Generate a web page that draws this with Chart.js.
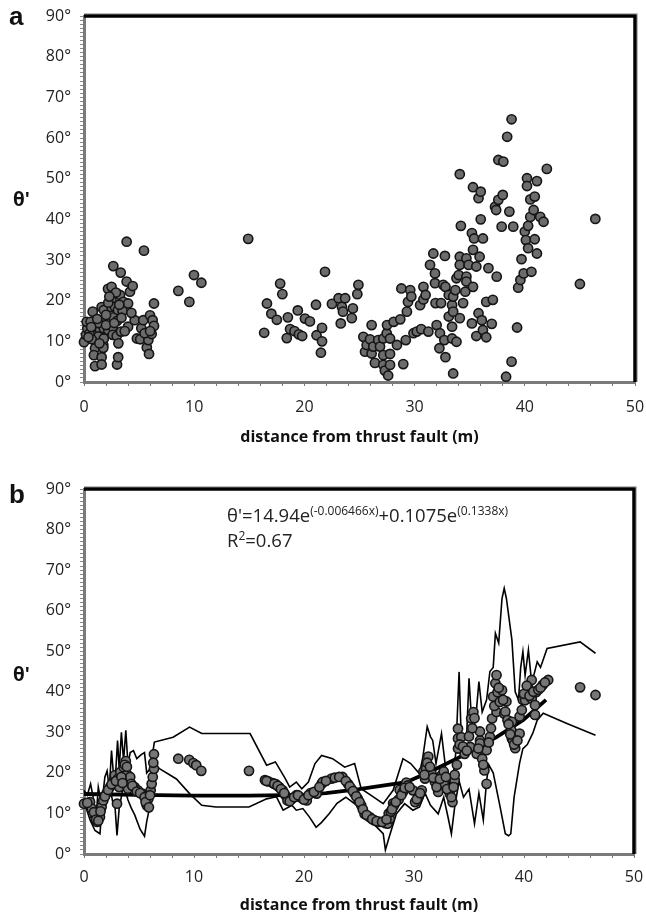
<!DOCTYPE html>
<html><head><meta charset="utf-8">
<script src="https://cdn.jsdelivr.net/npm/chart.js@4"></script>
<style>
html,body{margin:0;padding:0;background:#fff;width:646px;height:917px;overflow:hidden;font-family:"Open Sans",sans-serif;}
.wrap{position:absolute;left:0;width:646px;}
#wa{top:0;height:460px;}
#wb{top:470px;height:447px;}
.lbl{position:absolute;color:#111;white-space:nowrap;line-height:1;}
.pl{font-family:"Liberation Sans",Arial,sans-serif;font-weight:bold;font-size:26px;}
.th{font-family:"Open Sans",sans-serif;font-weight:bold;font-size:19px;}
.eq{font-family:"Open Sans",sans-serif;font-size:18.5px;color:#222;}
.eq sup{font-size:12px;vertical-align:7px;}
</style></head><body>
<div id="wa" class="wrap"><canvas id="ca"></canvas></div>
<div id="wb" class="wrap"><canvas id="cb"></canvas></div>
<div class="lbl pl" style="left:9px;top:3px;">a</div>
<div class="lbl pl" style="left:9px;top:481px;">b</div>
<div class="lbl th" style="left:13px;top:190px;">θ'</div>
<div class="lbl th" style="left:13px;top:665px;">θ'</div>
<div class="lbl eq" style="left:227px;top:505px;">θ'=14.94e<sup>(-0.006466x)</sup>+0.1075e<sup>(0.1338x)</sup></div>
<div class="lbl eq" style="left:227px;top:530px;">R<sup>2</sup>=0.67</div>
<script>
// ---------- axis ----------
const xMin = 0, xMax = 50, xMajor = 10, xMinor = 2;
const yMin = 0, yMax = 90, yMajor = 10, yMinor = 1;
const xTitle = "distance from thrust fault (m)";

// ---------- panel a : raw measurements (distance m, theta' deg) ----------
const aDist = [
 0,0.18,0.3,0.24,0.6,0.79,0.85,1.0,1.15,1.15,1.0,0.9,1.0,1.45,1.45,1.3,1.6,1.6,1.6,1.75,1.75,1.8,1.8,1.8,
 2.18,2.2,2.36,2.5,2.5,2.5,2.6,2.6,2.66,2.66,2.8,2.97,3.0,3.1,3.08,3.12,3.27,3.33,3.36,3.5,3.57,3.87,3.87,
 4.0,4.0,4.17,4.42,4.6,4.8,5.1,5.2,5.38,5.44,5.7,5.84,5.9,5.99,6.23,6.35,6.35,6.14,
 0.5,1.3,2.0,2.2,3.0,3.2,0.7,2.9,
 0.4,0.65,1.2,1.4,2.0,2.3,2.75,3.4,3.7,4.3,5.5,6.0,
 8.56,9.56,9.98,10.65,14.9,
 16.35,16.6,17.0,17.5,17.8,18.0,18.4,18.5,18.7,19.1,19.4,19.5,19.8,20.05,20.5,21.05,21.1,21.5,21.6,21.6,21.87,
 22.5,23.1,23.3,23.4,23.5,23.7,24.3,24.4,24.8,24.9,
 25.35,25.5,25.65,25.95,26.1,26.1,26.25,26.4,26.7,26.86,27.16,27.16,27.16,27.3,27.47,27.5,27.6,27.77,27.77,27.77,
 28.1,28.4,28.7,28.8,28.97,29.2,29.3,29.4,29.6,29.7,29.9,
 30.2,30.5,30.6,30.8,30.8,31.0,31.25,31.4,31.7,31.85,31.85,31.9,32.0,32.25,32.3,32.4,32.6,32.7,32.75,32.8,32.8,
 33.1,33.1,33.4,33.4,33.4,33.5,33.5,33.5,33.7,33.8,33.8,34.0,34.1,34.1,34.1,34.1,34.2,34.4,34.6,34.7,34.7,34.7,34.9,
 35.2,35.2,35.3,35.3,35.3,35.4,35.6,35.6,35.8,35.8,35.9,36.0,36.0,36.1,36.2,36.2,36.5,36.5,36.7,37.0,37.1,37.3,37.4,
 37.45,37.6,37.6,37.9,38.0,38.05,38.3,38.4,38.6,38.8,38.8,38.95,39.3,39.4,39.6,39.7,39.9,
 40.0,40.1,40.2,40.2,40.3,40.3,40.5,40.5,40.6,40.8,40.9,40.9,41.1,41.1,41.4,41.7,42.0,45.0,46.4
];
const aTheta = [
 9.8,11.6,13.2,14.8,14.8,17.3,12.8,10.3,12.8,10.7,8.3,6.6,3.9,15.2,12.8,11.2,18.4,6.1,4.3,9.1,8.4,17.7,13.2,10.7,
 22.9,12.8,15.2,20.0,23.4,18.4,13.6,11.6,28.5,15.9,18.5,11.3,4.3,6.1,17.7,9.5,21.4,26.9,12.4,17.5,19.7,34.5,24.7,
 19.3,13.6,22.2,23.6,15.2,10.7,10.5,13.2,15.2,32.3,8.5,10.3,6.9,16.4,15.2,13.8,19.3,11.8,
 12.0,14.5,14.0,19.5,15.0,19.0,10.5,22.0,
 11.0,13.5,15.5,9.5,16.5,21.0,14.5,15.8,12.5,17.0,12.0,12.5,
 22.4,19.7,26.3,24.4,35.2,
 12.1,19.3,16.8,15.3,24.2,21.6,10.8,15.9,13.0,12.5,17.6,11.7,11.3,15.6,14.9,19.0,11.5,7.2,13.3,10.0,27.1,
 19.2,20.6,14.4,18.5,17.3,20.6,15.7,18.1,21.6,23.9,
 11.1,7.45,9.1,10.5,14.0,7.0,8.7,4.7,10.3,8.7,10.7,6.6,4.2,2.8,12.0,14.0,1.6,10.7,6.9,4.2,
 14.8,9.1,15.4,23.0,4.4,10.3,17.3,19.7,22.6,21.0,12.0,
 12.4,18.9,13.0,20.3,23.4,21.4,12.4,28.8,31.6,26.7,24.3,19.4,14.0,8.3,12.0,19.4,23.9,10.3,31.0,23.4,6.1,
 16.1,21.4,18.9,10.7,13.6,17.3,21.0,2.1,22.6,9.9,25.5,26.3,51.1,30.8,28.8,15.7,38.4,19.4,22.2,25.9,24.7,30.4,28.8,
 36.6,14.4,47.9,32.5,23.4,35.3,28.4,11.3,45.2,16.9,30.8,46.8,40.0,15.2,35.3,12.8,19.7,11.0,28.0,14.3,20.2,43.1,42.3,
 25.9,54.6,44.8,38.2,46.0,54.2,1.3,60.3,41.9,64.6,5.0,38.2,13.4,23.2,25.1,30.2,26.7,
 37.0,34.9,50.1,48.2,38.4,32.9,44.9,40.6,27.1,42.3,45.6,35.1,49.4,31.6,40.6,39.4,52.4,24.1,40.1
];

// ---------- panel b : smoothed values ----------
const bDist = [
 0,0.55,0.7,1.0,1.2,1.45,1.6,1.75,2.06,2.36,2.66,2.8,3.0,3.1,3.2,3.3,3.6,3.8,3.94,4.0,4.2,4.3,4.6,4.9,5.3,5.7,5.7,5.85,
 6.06,6.15,6.25,6.36,6.36,8.57,9.57,9.94,10.2,10.66,15.0,16.45,16.75,17.15,17.45,17.75,18.06,18.3,18.5,18.9,19.3,19.6,
 19.9,20.25,20.6,21.15,21.6,21.7,22.5,23.5,24.0,24.3,24.6,24.9,25.2,25.5,25.97,26.4,26.9,27.3,27.4,27.6,27.7,27.8,27.9,
 28.1,28.2,28.6,28.7,29.0,29.3,29.45,29.9,30.1,30.4,30.7,30.85,31.0,31.1,31.3,31.6,31.9,32.2,32.5,32.7,32.7,33.25,33.5,
 33.7,33.7,34.0,34.0,34.0,34.3,34.6,35.1,35.2,35.4,35.7,36.0,36.0,36.0,36.2,36.4,36.6,36.6,36.9,37.1,37.2,37.4,37.5,
 37.5,37.6,38.0,38.2,38.3,38.4,38.5,38.85,38.9,38.9,39.0,39.2,39.6,39.6,39.9,40.1,40.4,40.7,40.7,41.0,41.0,41.1,41.7,
 42.2,45.1,46.5,
 0.3,0.9,1.1,1.3,1.5,1.9,2.2,2.5,2.9,3.4,3.5,3.7,3.9,4.4,4.8,5.1,5.5,5.6,5.9,6.0,6.3,
 16.6,17.3,17.6,17.9,18.2,18.7,19.1,19.45,20.0,20.4,20.9,21.4,
 22.0,22.8,23.2,23.8,24.15,24.45,24.75,25.05,25.35,25.7,26.2,26.6,27.1,27.5,28.0,28.35,28.85,29.15,29.6,
 30.25,30.55,30.95,31.2,31.45,31.75,32.05,32.35,32.9,33.0,33.4,33.6,33.9,34.15,34.45,
 34.8,35.0,35.3,35.5,35.85,36.3,36.8,37.0,37.3,37.7,37.8,38.1,38.6,38.75,39.1,39.4,39.8,40.0,40.25,40.5,40.85,41.3,41.5,41.9
];
const bTheta = [
 12.4,12.8,11.2,9.5,7.9,9.1,11.6,13.2,15.0,16.5,17.8,19.4,12.4,18.6,16.5,20.2,21.4,22.9,19.6,16.1,19.0,17.3,16.5,15.7,14.9,14.5,12.0,13.6,
 15.7,17.3,19.0,21.0,24.6,23.5,23.2,22.4,21.9,20.5,20.5,18.2,17.9,17.5,17.2,16.5,15.7,14.5,13.2,13.6,14.5,14.1,
 13.6,13.2,15.0,14.9,17.3,17.75,18.6,19.0,17.3,16.1,14.9,13.6,12.0,9.9,9.1,8.3,7.9,7.9,7.6,7.5,10.0,8.7,10.4,
 12.5,12.0,13.4,15.8,15.3,17.6,16.9,15.7,12.8,14.1,15.7,20.3,18.6,21.0,24.0,19.8,17.75,15.3,19.4,20.3,17.4,14.9,12.8,
 18.2,19.5,26.0,30.9,28.5,28.8,24.7,26.4,33.4,35.0,24.7,28.0,30.2,27.3,23.5,20.6,17.3,25.6,28.9,33.4,38.8,42.1,44.1,
 35.0,39.9,40.4,34.6,35.1,37.6,33.0,30.5,32.6,28.5,28.0,26.1,29.7,33.9,38.0,37.9,40.9,42.9,38.3,36.7,34.3,39.9,41.7,
 42.9,41.1,39.2,
 12.6,10.3,8.5,8.2,10.5,14.2,15.8,17.2,18.0,19.0,17.5,22.0,21.5,16.8,15.4,15.0,14.0,12.8,11.5,14.5,22.5,
 18.0,17.3,16.8,16.0,15.0,13.0,14.0,14.5,13.4,14.5,15.3,16.5,
 18.0,18.8,19.0,18.0,16.7,15.5,14.2,12.8,11.0,9.6,8.6,8.1,7.9,8.5,11.0,12.8,14.5,16.3,16.5,
 13.5,15.0,19.5,22.5,21.5,18.8,16.5,18.5,19.0,16.0,14.0,16.5,22.0,27.0,26.5,
 25.5,29.0,31.0,33.5,26.0,22.0,27.5,31.0,36.5,41.0,37.5,38.0,32.0,29.5,27.0,28.0,35.5,39.5,41.5,39.0,40.0,40.5,41.0,42.3
];

// upper and lower envelope lines of panel b
const upDist = [0,0.3,0.6,0.9,1.1,1.3,1.6,1.9,2.1,2.3,2.5,2.7,2.9,3.05,3.2,3.4,3.6,3.8,4.0,4.2,4.5,4.8,5.2,5.5,5.7,6.0,6.4,
 8.1,9.6,10.7,15.1,16.6,17.4,18.3,18.7,19.3,19.8,20.4,21.0,21.6,22.6,23.7,24.6,25.2,26.3,27.2,28.1,29.0,29.7,30.5,30.8,
 31.2,31.5,31.7,32.0,32.5,32.9,33.4,33.8,34.1,34.3,34.5,34.8,35.0,35.3,35.6,35.9,36.2,36.6,36.9,37.2,37.4,37.7,38.0,38.2,
 38.4,38.9,39.2,39.5,39.7,39.9,40.1,40.4,40.7,41.2,41.5,42.1,45.1,46.5];
const upTheta = [15.7,14.5,17.3,13,9,16.5,12,19,20.5,16,25.5,19,21,28,21,30,23,30.5,22,25,25.5,23.5,24.5,25,20,21,27.6,
 28.8,31.3,29.7,29.7,21.9,22.7,18.6,16.5,17.75,16.1,17.75,22.3,24.3,23.5,21.4,22.3,16.1,14.1,12.4,15.7,23.5,22.3,19.8,23.8,
 31.4,28.9,28.0,22.3,29.7,20.6,15.8,25,44.9,28,28.1,30,43.3,30,33,42.5,35,38,45,46,54.4,52,63,65.5,
 63,52.8,40,38,46,49.9,44,50.3,42,47.4,46,50.7,52.3,49.5];
const loDist = [0,0.55,1.0,1.45,1.6,1.75,1.9,2.36,2.6,2.8,3.0,3.2,3.6,4.0,4.3,4.6,5.1,5.5,5.7,6.1,6.36,6.9,8.4,9.6,10.7,
 12.0,15.0,16.6,17.5,18.1,18.9,19.3,19.9,20.5,21.1,21.6,22.3,23.0,23.8,24.8,25.4,26.3,27.2,27.4,27.8,28.4,29.15,29.9,30.5,
 31.0,31.5,32.2,32.7,33.1,33.4,33.7,34.1,34.5,35.0,35.5,35.9,36.3,36.6,36.8,37.2,37.8,38.3,38.6,38.8,39.1,39.6,39.9,40.3,
 40.8,41.2,41.75,43.9,46.5];
const loTheta = [13,8.4,5.8,5.0,10,8.9,11,16.5,13,12.4,4.6,11.3,17.0,13.3,11.3,9.7,6.1,4.4,8.0,13.2,22.1,21.0,18.5,14.9,12.0,
 11.6,11.6,13.6,14.1,10.8,12.0,10.8,11.2,9.1,6.6,7.8,10,12.5,14,12.0,9.5,7.5,5.0,1.0,4.7,9.9,12.4,10.8,11.6,
 15,12,9.9,14,9,5.0,11.6,18,14,16,7.5,15,8.4,18,22,20,12,5.0,4.5,5.0,14,22.4,26,27,
 29.8,33,34.7,32.2,29.3];
// fitted curve as drawn in panel b
const fitDist = [0,5,10,15,20,22,25,27,29.3,31.7,34.75,37.5,39.9,42];
const fitTheta = [14.8,14.6,14.4,14.4,14.6,15.0,16.0,16.8,17.7,20.6,24.7,28.8,33.0,38.0];

const pts = (xs, ys) => xs.map((x, i) => ({x, y: ys[i]}));

const framePlugin = {
  id: 'frame',
  afterDraw(chart) {
    const {ctx, chartArea: {left, top, right, bottom}} = chart;
    ctx.save();
    ctx.strokeStyle = '#bbb'; ctx.lineWidth = 1;
    ctx.beginPath(); ctx.moveTo(left, top - 2.5); ctx.lineTo(right + 2.5, top - 2.5); ctx.lineTo(right + 2.5, bottom); ctx.stroke();
    ctx.strokeStyle = '#000'; ctx.lineWidth = 3.5;
    ctx.beginPath(); ctx.moveTo(left, top); ctx.lineTo(right, top); ctx.lineTo(right, bottom); ctx.stroke();
    ctx.restore();
  }
};

function makeOpts(padTop, padRight, xH, tickPad, titlePadBottom) {
  return {
    responsive: true, maintainAspectRatio: false, animation: false,
    layout: {autoPadding: false, padding: {top: padTop, right: padRight, left: 0, bottom: 0}},
    plugins: {legend: {display: false}, tooltip: {enabled: false}},
    scales: {
      x: {
        type: 'linear', min: xMin, max: xMax,
        afterFit(s) { s.height = xH; s.paddingLeft = 0; s.paddingRight = 0; s.paddingTop = 0; s.paddingBottom = 0; },
        afterBuildTicks(s) { s.ticks = []; for (let v = xMin; v <= xMax; v += xMinor) s.ticks.push({value: v}); },
        ticks: {autoSkip: false, maxRotation: 0, padding: tickPad, color: '#222',
          font: {family: 'Open Sans', size: 16},
          callback: v => (v % xMajor === 0 ? String(v) : '')},
        grid: {drawOnChartArea: false, drawTicks: true, tickLength: 4, color: '#777', lineWidth: 1},
        border: {display: true, color: '#7a7a7a', width: 3},
        title: {display: true, text: xTitle, color: '#111', padding: {top: 0, bottom: titlePadBottom},
          font: {family: 'Open Sans', size: 16, weight: 'bold'}}
      },
      y: {
        type: 'linear', min: yMin, max: yMax,
        afterFit(s) { s.width = 84; s.paddingLeft = 0; s.paddingRight = 0; s.paddingTop = 0; s.paddingBottom = 0; },
        afterBuildTicks(s) { s.ticks = []; for (let v = yMin; v <= yMax; v += yMinor) s.ticks.push({value: v}); },
        ticks: {autoSkip: false, padding: 9, color: '#222',
          font: {family: 'Open Sans', size: 16},
          callback: v => (v % yMajor === 0 ? v + '°' : '')},
        grid: {drawOnChartArea: false, drawTicks: true, tickLength: 4, color: '#888', lineWidth: 1},
        border: {display: true, color: '#7a7a7a', width: 3}
      }
    }
  };
}

const pointStyle = {pointRadius: 4.6, pointBackgroundColor: '#6c6c6c', pointBorderColor: '#151515', pointBorderWidth: 1.6, showLine: false, clip: 8};

new Chart(document.getElementById('ca'), {
  type: 'scatter',
  data: {datasets: [Object.assign({label: 'theta', data: pts(aDist, aTheta)}, pointStyle)]},
  options: makeOpts(16, 11, 78, 12, 13),
  plugins: [framePlugin]
});

const lineStyle = {showLine: true, pointRadius: 0, borderColor: '#000', tension: 0, clip: 4};
new Chart(document.getElementById('cb'), {
  type: 'scatter',
  data: {datasets: [
    Object.assign({label: 'smoothed', data: pts(bDist, bTheta), order: 0}, pointStyle, {pointBackgroundColor: '#767676'}),
    Object.assign({label: 'upper', data: pts(upDist, upTheta), borderWidth: 1.6, order: 2}, lineStyle),
    Object.assign({label: 'lower', data: pts(loDist, loTheta), borderWidth: 1.6, order: 2}, lineStyle),
    Object.assign({label: 'fit', data: pts(fitDist, fitTheta), borderWidth: 3.8, order: 1}, lineStyle)
  ]},
  options: makeOpts(19, 12, 63, 10, 2),
  plugins: [framePlugin]
});
</script>
</body></html>
